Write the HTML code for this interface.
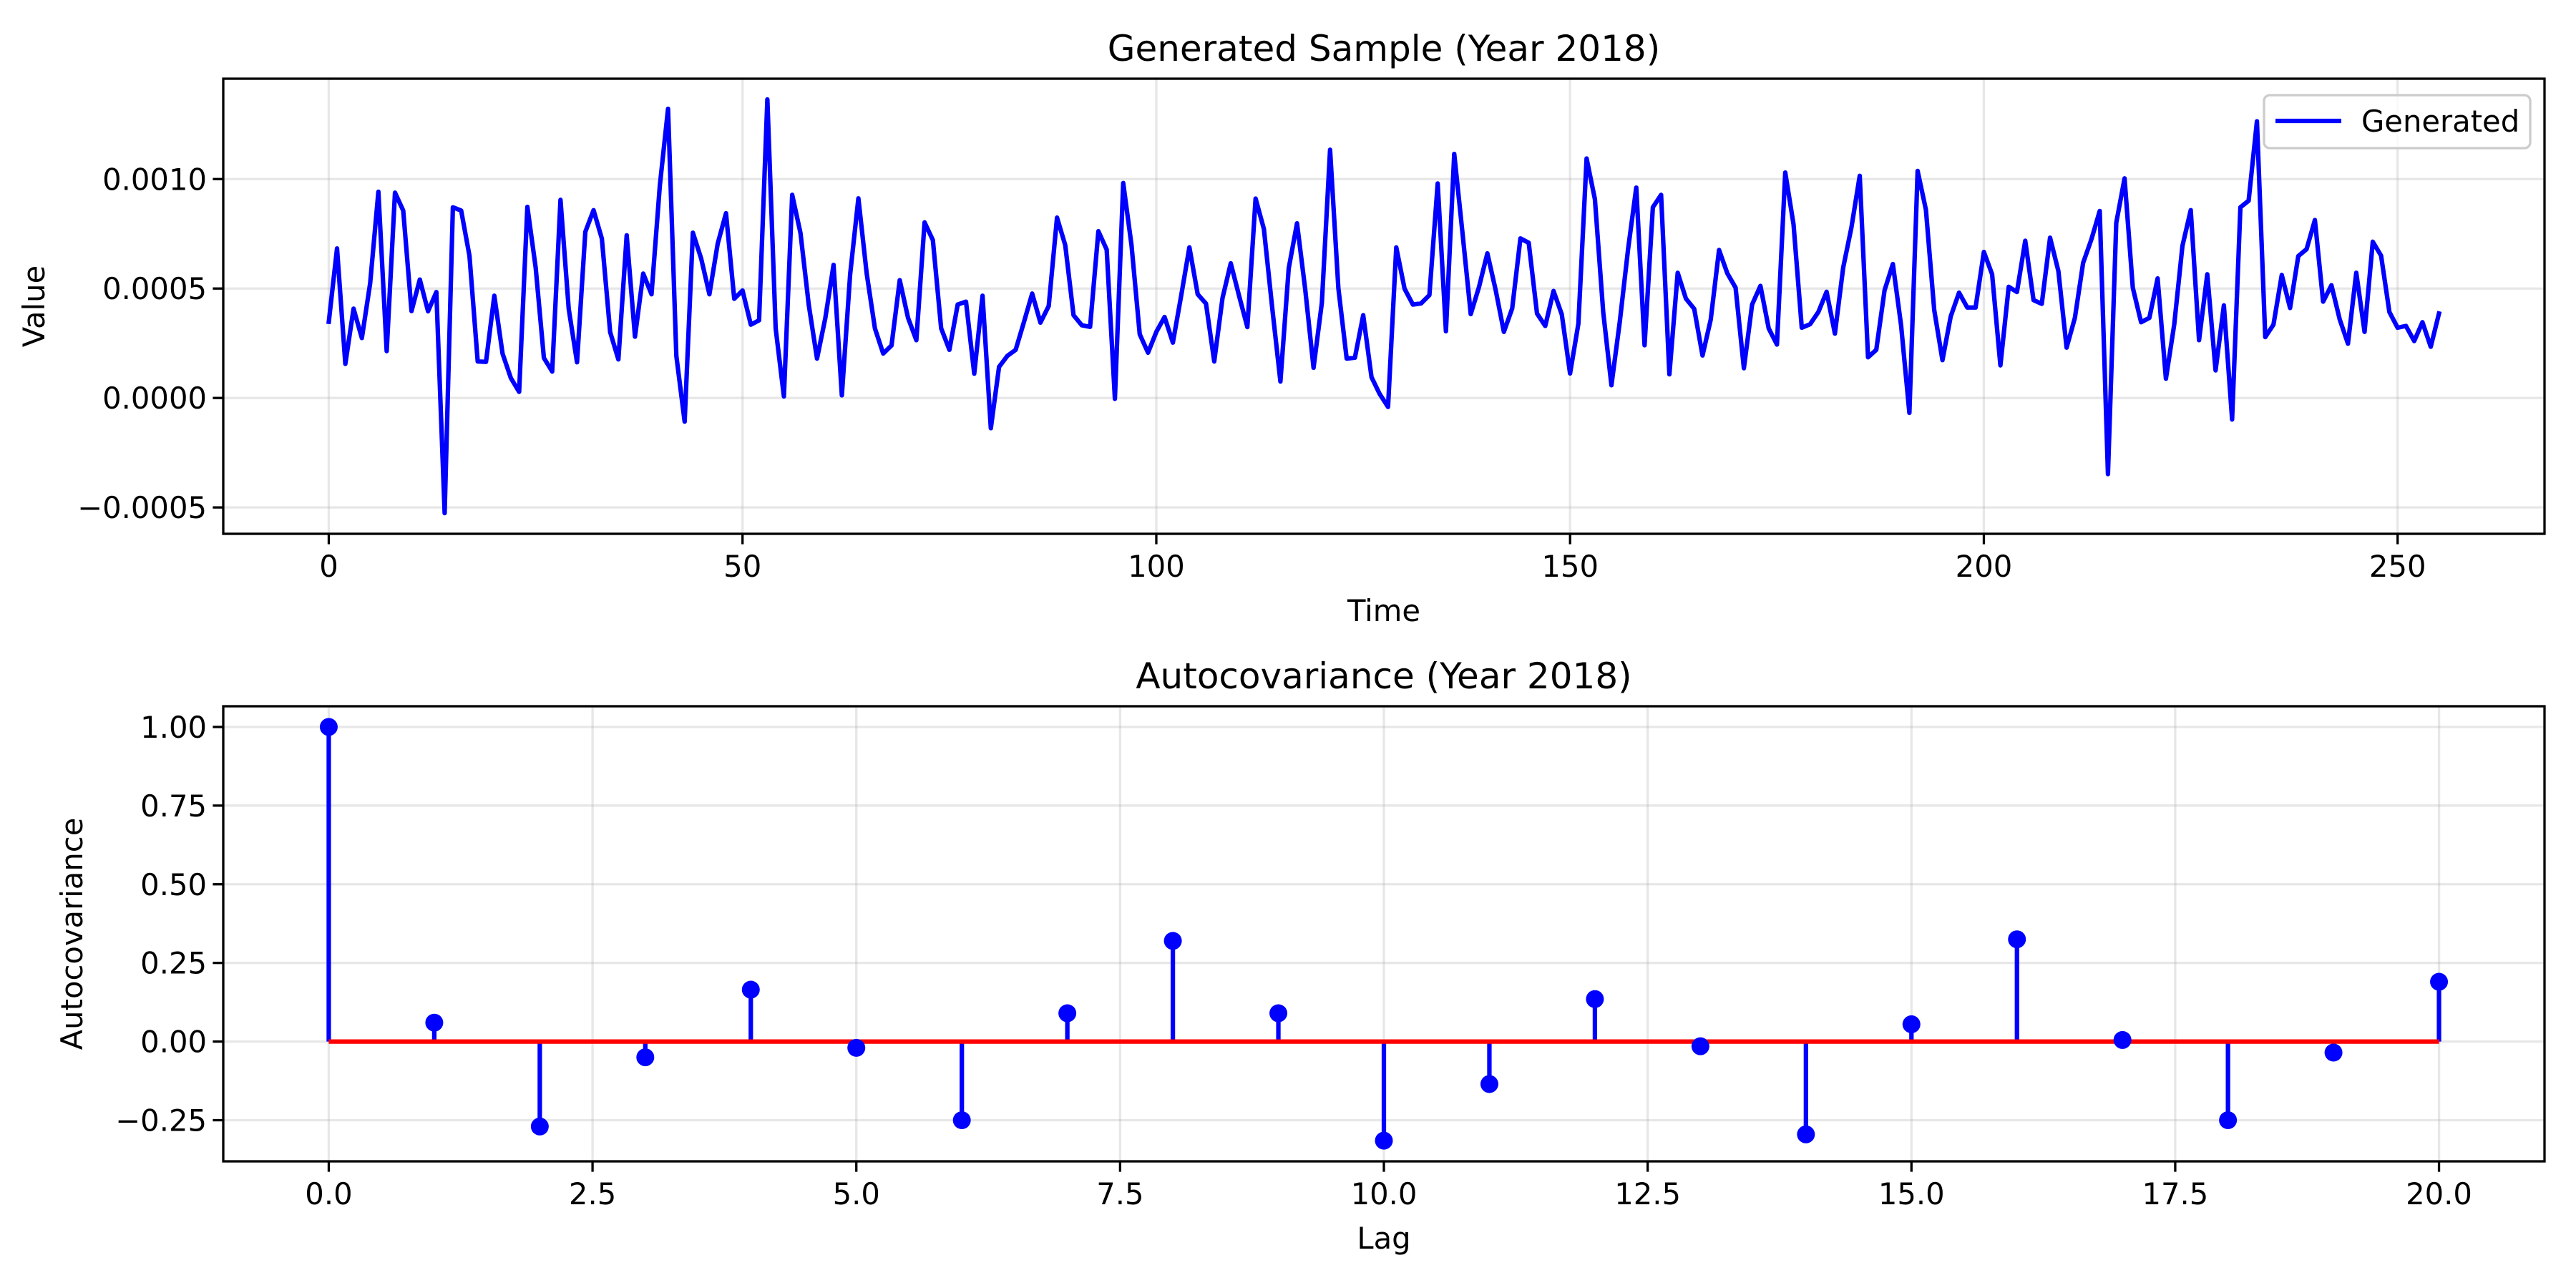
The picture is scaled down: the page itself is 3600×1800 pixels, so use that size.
<!DOCTYPE html>
<html><head><meta charset="utf-8">
<style>
html,body{margin:0;padding:0;background:#fff;}
svg{display:block;font-family:"DejaVu Sans","Liberation Sans",sans-serif;}
</style></head>
<body>
<svg id="fig" width="3600" height="1800" viewBox="0 0 3600 1800" xmlns="http://www.w3.org/2000/svg">
<rect width="3600" height="1800" fill="#fff"/>
</svg>
<script>
const sampleValues = [
0.000348,0.000683,0.000156,0.000408,0.000274,0.000524,0.000942,0.000214,0.000938,0.000856,
0.000397,0.000541,0.000396,0.000484,-0.000526,0.000871,0.000856,0.000649,0.000167,0.000165,
0.000467,0.000203,0.000091,0.000028,0.000873,0.000596,0.000183,0.000121,0.000905,0.000407,
0.000163,0.000759,0.000858,0.000728,0.000301,0.000176,0.000743,0.000280,0.000568,0.000474,
0.000969,0.001321,0.000192,-0.000108,0.000755,0.000637,0.000474,0.000705,0.000844,0.000453,
0.000491,0.000335,0.000355,0.001364,0.000318,0.000007,0.000928,0.000753,0.000427,0.000180,
0.000365,0.000608,0.000012,0.000565,0.000912,0.000569,0.000318,0.000203,0.000240,0.000538,
0.000366,0.000264,0.000802,0.000721,0.000318,0.000220,0.000427,0.000440,0.000111,0.000467,
-0.000138,0.000142,0.000192,0.000220,0.000346,0.000477,0.000344,0.000420,0.000824,0.000698,
0.000378,0.000332,0.000325,0.000762,0.000678,-0.000004,0.000982,0.000698,0.000291,0.000207,
0.000302,0.000370,0.000253,0.000467,0.000688,0.000474,0.000431,0.000167,0.000457,0.000615,
0.000467,0.000324,0.000911,0.000772,0.000413,0.000075,0.000592,0.000798,0.000495,0.000138,
0.000434,0.001134,0.000501,0.000180,0.000184,0.000378,0.000095,0.000018,-0.000041,0.000688,
0.000499,0.000427,0.000432,0.000470,0.000980,0.000305,0.001115,0.000752,0.000383,0.000508,
0.000661,0.000495,0.000302,0.000409,0.000729,0.000709,0.000386,0.000329,0.000489,0.000382,
0.000112,0.000339,0.001094,0.000908,0.000393,0.000058,0.000346,0.000678,0.000961,0.000241,
0.000871,0.000928,0.000108,0.000572,0.000454,0.000407,0.000194,0.000359,0.000676,0.000569,
0.000504,0.000136,0.000427,0.000512,0.000318,0.000244,0.001030,0.000793,0.000321,0.000337,
0.000393,0.000485,0.000294,0.000596,0.000779,0.001015,0.000186,0.000220,0.000492,0.000612,
0.000332,-0.000068,0.001037,0.000860,0.000402,0.000173,0.000373,0.000481,0.000413,0.000413,
0.000667,0.000565,0.000149,0.000508,0.000484,0.000718,0.000447,0.000430,0.000732,0.000580,
0.000230,0.000366,0.000617,0.000725,0.000854,-0.000348,0.000800,0.001003,0.000504,0.000346,
0.000366,0.000546,0.000088,0.000335,0.000695,0.000858,0.000264,0.000565,0.000126,0.000423,
-0.000098,0.000871,0.000901,0.001264,0.000278,0.000335,0.000562,0.000411,0.000648,0.000680,
0.000813,0.000440,0.000515,0.000359,0.000248,0.000572,0.000302,0.000714,0.000650,0.000393,
0.000321,0.000329,0.000260,0.000346,0.000234,0.000386];
const acfLags = [0,1,2,3,4,5,6,7,8,9,10,11,12,13,14,15,16,17,18,19,20];
const acfValues = [1.0,0.06,-0.27,-0.05,0.165,-0.02,-0.25,0.09,0.32,0.09,-0.315,-0.135,0.135,-0.015,-0.295,0.055,0.325,0.005,-0.25,-0.035,0.19];
const topXTicks = [0,50,100,150,200,250];
const topYTicks = [-0.0005,0,0.0005,0.001];
const topYLabels = ["\u22120.0005","0.0000","0.0005","0.0010"];
const botXTicks = [0,2.5,5,7.5,10,12.5,15,17.5,20];
const botXLabels = ["0.0","2.5","5.0","7.5","10.0","12.5","15.0","17.5","20.0"];
const botYTicks = [-0.25,0,0.25,0.5,0.75,1.0];
const botYLabels = ["\u22120.25","0.00","0.25","0.50","0.75","1.00"];

const NS="http://www.w3.org/2000/svg";
const svg=document.getElementById('fig');
function mk(tag,attrs,parent){const e=document.createElementNS(NS,tag);for(const k in attrs)e.setAttribute(k,attrs[k]);(parent||svg).appendChild(e);return e;}
function pad(min,max){const r=max-min;return [min-0.05*r,max+0.05*r];}

const L=312,R=3556;
function axes(top,bottom,xd,yd,name){
  const g=mk('g',{});
  
  
  const sx=v=>L+(v-xd[0])/(xd[1]-xd[0])*(R-L);
  const sy=v=>bottom-(v-yd[0])/(yd[1]-yd[0])*(bottom-top);
  return {g,sx,sy,top,bottom};
}
function frame(a,xt,xl,yt,yl,title,xlab,ylab,ylabX){
  const gg=mk('g',{},a.g);
  
  
  xt.forEach((v,i)=>{const x=a.sx(v);
    mk('line',{x1:x,x2:x,y1:a.top,y2:a.bottom,stroke:'#b0b0b0','stroke-opacity':0.3,'stroke-width':3.3},gg);
    mk('line',{x1:x,x2:x,y1:a.bottom,y2:a.bottom+14.6,stroke:'#000','stroke-width':3.3},a.g);
    const t=mk('text',{x:x,y:a.bottom+60,'text-anchor':'middle','font-size':41.7,fill:'#000'},a.g);t.textContent=xl[i];
    
    
  });
  yt.forEach((v,i)=>{const y=a.sy(v);
    mk('line',{x1:L,x2:R,y1:y,y2:y,stroke:'#b0b0b0','stroke-opacity':0.3,'stroke-width':3.3},gg);
    mk('line',{x1:L-14.6,x2:L,y1:y,y2:y,stroke:'#000','stroke-width':3.3},a.g);
    const t=mk('text',{x:L-23,y:y+15,'text-anchor':'end','font-size':41.7,fill:'#000'},a.g);t.textContent=yl[i];
    
    
  });
  const t1=mk('text',{x:(L+R)/2,y:a.top-25,'text-anchor':'middle','font-size':50,fill:'#000'},a.g);t1.textContent=title;
  
  
  const t2=mk('text',{x:(L+R)/2,y:a.bottom+122,'text-anchor':'middle','font-size':41.7,fill:'#000'},a.g);t2.textContent=xlab;
  
  
  const cy=(a.top+a.bottom)/2;
  const t3=mk('text',{x:ylabX,y:cy,'text-anchor':'middle','font-size':41.7,fill:'#000',transform:`rotate(-90 ${ylabX} ${cy})`},a.g);t3.textContent=ylab;
  
  
}
function border(a){
  const r=mk('rect',{x:L,y:a.top,width:R-L,height:a.bottom-a.top,fill:'none',stroke:'#000','stroke-width':3.3},a.g);
  
  
}

// Top chart
const ymin=Math.min(...sampleValues),ymax=Math.max(...sampleValues);
const A=axes(110,746,pad(0,sampleValues.length-1),pad(ymin,ymax),'generated-sample-chart');
frame(A,topXTicks,topXTicks.map(String),topYTicks,topYLabels,'Generated Sample (Year 2018)','Time','Value',62);
const pts=sampleValues.map((v,i)=>A.sx(i).toFixed(1)+','+A.sy(v).toFixed(1)).join(' ');
const pl=mk('polyline',{points:pts,fill:'none',stroke:'#0000ff','stroke-width':6.25,'stroke-linejoin':'round','stroke-linecap':'square'},A.g);


border(A);
const lg=mk('g',{},A.g);


mk('rect',{x:3164,y:133,width:372,height:74,rx:8,fill:'#fff','fill-opacity':0.8,stroke:'#cccccc','stroke-width':3.3},lg);
mk('line',{x1:3180,x2:3272,y1:169,y2:169,stroke:'#0000ff','stroke-width':6.25},lg);
const lt=mk('text',{x:3300,y:184,'font-size':41.7,fill:'#000'},lg);lt.textContent='Generated';



// Bottom chart
const amin=Math.min(...acfValues),amax=Math.max(...acfValues);
const lmin=Math.min(...acfLags),lmax=Math.max(...acfLags);
const B=axes(987,1623,pad(lmin,lmax),pad(amin,amax),'autocovariance-chart');
frame(B,botXTicks,botXLabels,botYTicks,botYLabels,'Autocovariance (Year 2018)','Lag','Autocovariance',115);
acfLags.forEach((lag,i)=>{
  const x=B.sx(lag);
  const s=mk('line',{x1:x,x2:x,y1:B.sy(0),y2:B.sy(acfValues[i]),stroke:'#0000ff','stroke-width':6.25},B.g);
  
  
});
const bl=mk('line',{x1:B.sx(lmin),x2:B.sx(lmax),y1:B.sy(0),y2:B.sy(0),stroke:'#ff0000','stroke-width':6.25},B.g);


acfLags.forEach((lag,i)=>{
  const c=mk('circle',{cx:B.sx(lag),cy:B.sy(acfValues[i]),r:12.5,fill:'#0000ff'},B.g);
  
  
});
border(B);
</script>
</body></html>
